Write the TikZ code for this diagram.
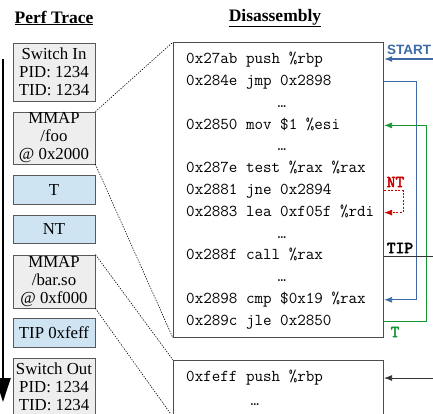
\documentclass[tikz,border=0pt]{standalone}
\usepackage{fontspec}
\setmainfont{Liberation Serif}
\setsansfont{Liberation Sans}
\newfontfamily\tagfont{lmmono10-regular.otf}[FakeBold=3]
\usetikzlibrary{arrows.meta}
\definecolor{eventgray}{RGB}{238,238,238}
\definecolor{branchblue}{RGB}{207,228,243}
\definecolor{jmpblue}{RGB}{62,106,168}
\definecolor{takengreen}{RGB}{20,150,50}
\definecolor{ntred}{RGB}{204,0,0}
\tikzset{
  event/.style={draw=black!65, fill=eventgray, line width=0.8pt, minimum width=82pt,
    inner sep=0pt, align=center, font=\fontsize{16.8}{18}\selectfont},
  branch/.style={event, fill=branchblue},
  codebox/.style={draw=black!70, line width=1.1pt, minimum width=210pt, inner sep=0pt},
  insn/.style={anchor=west, inner sep=0pt, text height=11pt, text depth=3.5pt,
    font=\fontsize{16.6}{18}\ttfamily},
  gap/.style={insn, anchor=center},
  tag/.style={inner sep=0pt, font=\fontsize{16.6}{18}\tagfont},
  mapline/.style={line width=0.6pt, dash pattern=on 1.3pt off 1.3pt},
  flow/.style={line width=0.8pt, -{Latex[length=8pt,width=6pt]}},
}
\begin{document}
\begin{tikzpicture}[x=1pt,y=-1pt]
    \useasboundingbox (0,0) rectangle (433,413);
    %% titles
    \node[font=\fontsize{17.5}{20}\selectfont\bfseries] (perftitle) at (54,18) {\underline{Perf Trace}};
    \node[font=\fontsize{17.5}{20}\selectfont\bfseries] (disasmtitle) at (275,18) {\underline{Disassembly}};
    %% time axis
    \coordinate (timetop) at (3,59);
    \coordinate (timebot) at (3,402);
    \draw[line width=2.4pt,-{Triangle[length=24pt,width=15pt]}] (timetop) -- (timebot);
    %% perf events
    \node[event,minimum height=58pt] (switchin) at (54,72) {Switch In\\PID: 1234\\TID: 1234};
    \node[event,minimum height=52pt] (mmapfoo) at (54,138) {MMAP\\/foo\\@ 0x2000};
    \node[branch,minimum height=29pt] (taken) at (54,189.5) {T};
    \node[branch,minimum height=28pt] (nottaken) at (54,229) {NT};
    \node[event,minimum height=53pt] (mmapbar) at (54,281.5) {MMAP\\/bar.so\\@ 0xf000};
    \node[branch,minimum height=29pt] (tipev) at (54,332.5) {TIP 0xfeff};
    \node[event,minimum height=58pt] (switchout) at (54,387) {Switch Out\\PID: 1234\\TID: 1234};
    %% code of /foo
    \node[codebox,minimum height=295pt,anchor=north west] (code) at (173,42) {};
    \node[insn] (row0) at (186,60) {0x27ab push \%rbp};
    \node[insn] (row1) at (186,81.8) {0x284e jmp 0x2898};
    \node[gap] (row2) at (282,103.6) {…};
    \node[insn] (row3) at (186,125.4) {0x2850 mov \$1 \%esi};
    \node[gap] (row4) at (282,147.2) {…};
    \node[insn] (row5) at (186,169) {0x287e test \%rax \%rax};
    \node[insn] (row6) at (186,190.8) {0x2881 jne 0x2894};
    \node[insn] (row7) at (186,212.6) {0x2883 lea 0xf05f \%rdi};
    \node[gap] (row8) at (282,234.4) {…};
    \node[insn] (row9) at (186,256.2) {0x288f call \%rax};
    \node[gap] (row10) at (282,278) {…};
    \node[insn] (row11) at (186,299.8) {0x2898 cmp \$0x19 \%rax};
    \node[insn] (row12) at (186,321.6) {0x289c jle 0x2850};
    %% code of /bar.so
    \node[codebox,minimum height=56pt,anchor=north west] (code2) at (173,360) {};
    \node[insn] (row13) at (186,378) {0xfeff push \%rbp};
    \node[gap] (row14) at (255,401.5) {…};
    %% mappings
    \draw[mapline] (mmapfoo.north east) -- (code.north west);
    \draw[mapline] (mmapfoo.south east) -- (code.south west);
    \draw[mapline] (mmapbar.north east) -- (code2.north west);
    \draw[mapline] (mmapbar.south east) -- (code2.south west);
    %% control flow
    \coordinate (startin) at (433,59);
    \draw[flow,jmpblue,line width=1.2pt] (startin) -- (startin -| code.east);
    \node[anchor=west,inner sep=0pt,text=jmpblue,font=\sffamily\bfseries\fontsize{13.5}{16}\selectfont] (startlbl) at (387,50) {START};
    \draw[flow,jmpblue] (code.east |- row1) -- ++(32,0) |- (code.east |- row11);
    \draw[flow,takengreen] (code.east |- row12) -- ++(42,0) |- (code.east |- row3);
    \node[tag,text=takengreen] (tlbl) at (395,332) {T};
    \draw[flow,ntred,dash pattern=on 2pt off 1.5pt] (code.east |- row6) -- ++(19,0) |- (code.east |- row7);
    \node[tag,text=ntred] (ntlbl) at (395.5,182) {NT};
    \draw[flow,black!80] (code.east |- row9) -- ++(49,0) |- (code2.east |- row13);
    \node[tag] (tiplbl) at (400,248) {TIP};
\end{tikzpicture}
\end{document}
